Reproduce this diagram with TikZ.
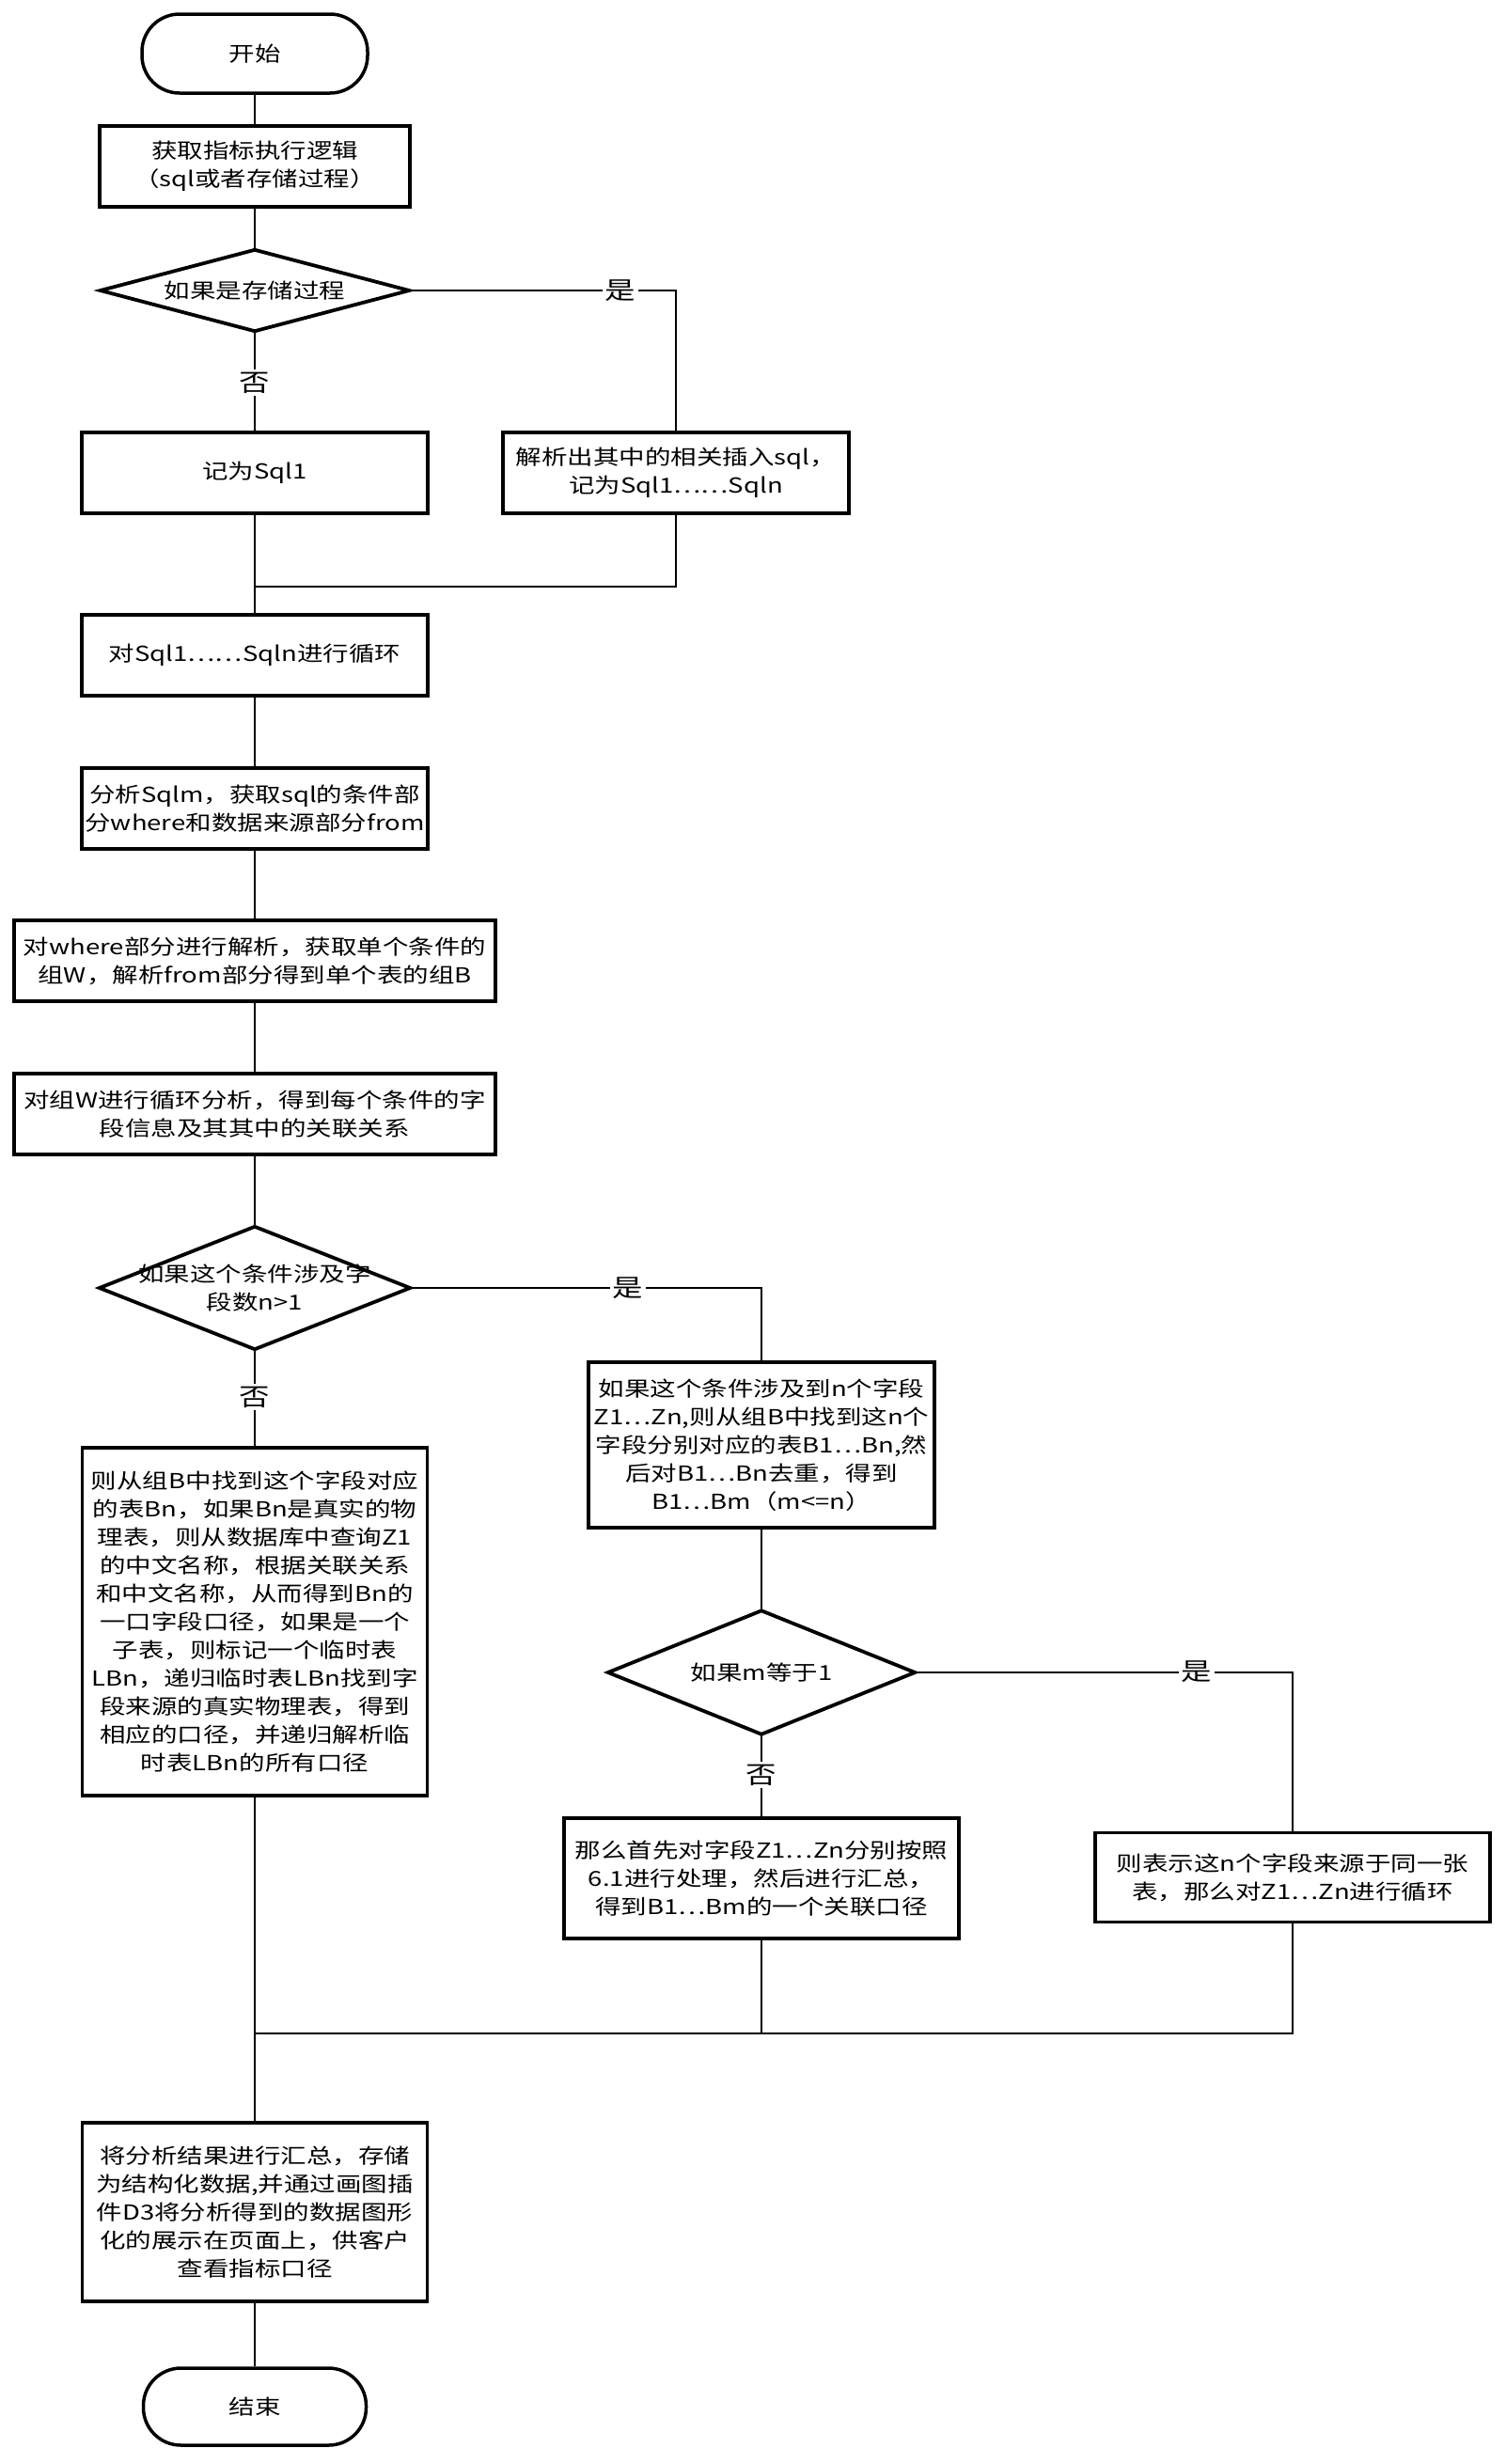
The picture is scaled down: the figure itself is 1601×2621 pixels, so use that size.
\documentclass[tikz,border=0pt]{standalone}
\usepackage{fontspec}
\setmainfont{Noto Sans CJK SC}[FakeStretch=1.25]
\begin{document}
\begin{tikzpicture}[x=1pt,y=-1pt,
  every node/.style={font=\fontsize{22}{30}\selectfont, align=center, inner sep=0pt},
  box/.style={draw, line width=3.2pt, rectangle},
  term/.style={draw, line width=3.5pt, rounded corners=40pt},
  dia/.style={rectangle},
  diaborder/.style={line width=3.8pt, line join=miter},
  conn/.style={line width=2.6pt},
  lab/.style={fill=white, inner sep=3pt, font=\fontsize{26}{26}\selectfont}]
\useasboundingbox (0,0) rectangle (1601,2621);

% nodes
\node[term, minimum width=240pt, minimum height=84pt] (start) at (271,57) {开始};
\node[box, minimum width=330pt, minimum height=86pt] (get) at (271,177) {获取指标执行逻辑\\（sql或者存储过程）};
\node[dia, minimum width=328pt, minimum height=86pt] (d1) at (271,309) {如果是存储过程};
\node[box, minimum width=368pt, minimum height=86pt] (sql1) at (271,503) {记为Sql1};
\node[box, minimum width=368pt, minimum height=86pt] (rsql) at (719,503) {解析出其中的相关插入sql，\\记为Sql1……Sqln};
\node[box, minimum width=368pt, minimum height=86pt] (loop) at (271,697) {对Sql1……Sqln进行循环};
\node[box, minimum width=368pt, minimum height=86pt] (anal) at (271,860) {分析Sqlm，获取sql的条件部\\分where和数据来源部分from};
\node[box, minimum width=512pt, minimum height=86pt] (where) at (271,1022) {对where部分进行解析，获取单个条件的\\组W，解析from部分得到单个表的组B};
\node[box, minimum width=512pt, minimum height=86pt] (grpw) at (271,1185) {对组W进行循环分析，得到每个条件的字\\段信息及其其中的关联关系};
\node[dia, minimum width=330pt, minimum height=130pt] (d2) at (271,1370) {如果这个条件涉及字\\段数n>1};
\node[box, minimum width=367pt, minimum height=370pt] (left) at (271,1725) {则从组B中找到这个字段对应\\的表Bn，如果Bn是真实的物\\理表，则从数据库中查询Z1\\的中文名称，根据关联关系\\和中文名称，从而得到Bn的\\一口字段口径，如果是一个\\子表，则标记一个临时表\\LBn，递归临时表LBn找到字\\段来源的真实物理表，得到\\相应的口径，并递归解析临\\时表LBn的所有口径};
\node[box, minimum width=368pt, minimum height=176pt] (rbox) at (810,1537) {如果这个条件涉及到n个字段\\Z1…Zn,则从组B中找到这n个\\字段分别对应的表B1…Bn,然\\后对B1…Bn去重，得到\\B1…Bm（m<=n）};
\node[dia, minimum width=326pt, minimum height=131pt] (dm) at (810,1779) {如果m等于1};
\node[box, minimum width=420pt, minimum height=128pt] (multi) at (810,1998) {那么首先对字段Z1…Zn分别按照\\6.1进行处理，然后进行汇总，\\得到B1…Bm的一个关联口径};
\node[box, minimum width=420pt, minimum height=95pt] (same) at (1375,1997) {则表示这n个字段来源于同一张\\表，那么对Z1…Zn进行循环};
\node[box, minimum width=367pt, minimum height=190pt] (final) at (271,2353) {将分析结果进行汇总，存储\\为结构化数据,并通过画图插\\件D3将分析得到的数据图形\\化的展示在页面上，供客户\\查看指标口径};
\node[term, minimum width=237pt, minimum height=82pt] (end) at (271,2560) {结束};

% diamond borders
\foreach \d in {d1,d2,dm}
  \draw[diaborder] (\d.north) -- (\d.east) -- (\d.south) -- (\d.west) -- cycle;

% merge points
\coordinate (m1) at (271,624);
\coordinate (m2) at (271,2163);

% connectors
\draw[conn] (start) -- (get);
\draw[conn] (get) -- (d1.north);
\draw[conn] (d1.south) -- (sql1.north);
\draw[conn] (d1.east) -| (rsql.north);
\draw[conn] (sql1) -- (loop);
\draw[conn] (rsql.south) |- (m1);
\draw[conn] (loop) -- (anal);
\draw[conn] (anal) -- (where);
\draw[conn] (where) -- (grpw);
\draw[conn] (grpw) -- (d2.north);
\draw[conn] (d2.south) -- (left.north);
\draw[conn] (d2.east) -| (rbox.north);
\draw[conn] (rbox.south) -- (dm.north);
\draw[conn] (dm.south) -- (multi.north);
\draw[conn] (dm.east) -| (same.north);
\draw[conn] (multi.south) -- (multi.south |- m2);
\draw[conn] (same.south) |- (m2);
\draw[conn] (left) -- (final);
\draw[conn] (final) -- (end);

% labels
\node[lab] (y1) at (660,309) {是};
\node[lab] (n1) at (271,407) {否};
\node[lab] (y2) at (668,1370) {是};
\node[lab] (n2) at (271,1486) {否};
\node[lab] (y3) at (1273,1778) {是};
\node[lab] (n3) at (810,1888) {否};
\end{tikzpicture}
\end{document}
